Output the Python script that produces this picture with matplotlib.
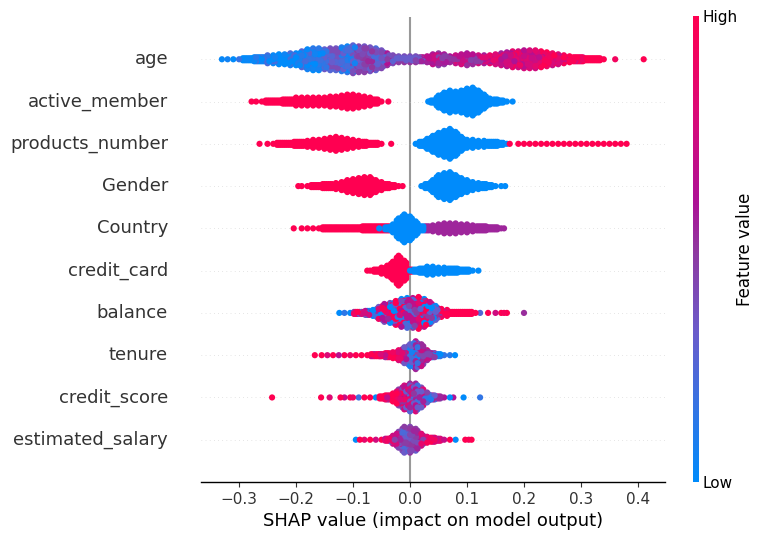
import numpy as np
import matplotlib
matplotlib.use("Agg")
import matplotlib.pyplot as plt
from matplotlib.colors import LinearSegmentedColormap
from matplotlib.cm import ScalarMappable

features = ["estimated_salary", "credit_score", "tenure", "balance", "credit_card",
            "Country", "Gender", "products_number", "active_member", "age"]

age_x = [-0.33,-0.32,-0.31,-0.30,-0.29,-0.28,-0.27,-0.26,-0.25,-0.24,-0.23,-0.22,-0.21,-0.20,-0.19,-0.18,-0.17,-0.16,-0.15,-0.14,-0.13,-0.12,-0.11,-0.10,-0.09,-0.08,-0.07,-0.06,-0.05,-0.04,-0.03,-0.02,-0.01,0.0,0.01,0.02,0.03,0.04,0.05,0.06,0.07,0.08,0.09,0.10,0.11,0.12,0.13,0.14,0.15,0.16,0.17,0.18,0.19,0.20,0.21,0.22,0.23,0.24,0.25,0.26,0.27,0.28,0.29,0.30,0.31,0.32,0.33,0.34,0.36,0.41]
age_n = [1,1,1,1,2,2,3,3,5,5,6,6,7,7,9,11,12,12,11,12,12,13,14,15,14,14,13,12,10,7,5,4,4,4,4,3,4,6,7,6,4,5,6,7,6,5,5,5,6,7,8,9,9,10,10,10,9,8,7,6,5,4,3,3,2,2,2,1,1,1]
age_f = [.02,.02,.02,.02,.03,.03,.03,.03,.03,.03,.04,.04,.05,.05,.08,.12,.16,.18,.2,.22,.22,.22,.22,.24,.28,.32,.36,.4,.42,.44,.46,.48,.5,.5,.5,.52,.52,.55,.56,.58,.6,.62,.62,.64,.64,.66,.68,.7,.72,.74,.76,.78,.8,.82,.82,.84,.84,.86,.88,.9,.92,.93,.94,.95,.96,.97,.98,.98,.98,.98]

active_x = [-0.278,-0.27,-0.26,-0.25,-0.24,-0.23,-0.22,-0.21,-0.20,-0.19,-0.18,-0.17,-0.16,-0.15,-0.14,-0.13,-0.12,-0.11,-0.10,-0.09,-0.08,-0.07,-0.06,-0.05,-0.038,0.032,0.04,0.05,0.06,0.07,0.08,0.09,0.10,0.11,0.12,0.13,0.14,0.15,0.16,0.17,0.18]
active_n = [1,1,1,2,2,2,3,3,5,5,5,5,5,5,6,6,7,8,8,7,6,5,3,1,1,1,2,7,10,12,11,12,14,15,12,8,4,3,2,1,1]
active_f = [1]*25 + [0]*16

products_x = [-0.264,-0.25,-0.24,-0.23,-0.22,-0.21,-0.20,-0.19,-0.18,-0.17,-0.16,-0.15,-0.14,-0.13,-0.12,-0.11,-0.10,-0.09,-0.08,-0.07,-0.06,-0.05,-0.033,0.01,0.02,0.03,0.04,0.05,0.06,0.07,0.08,0.09,0.10,0.11,0.12,0.13,0.14,0.15,0.16,0.17,0.175,0.19,0.20,0.21,0.22,0.23,0.24,0.25,0.26,0.27,0.28,0.29,0.30,0.31,0.32,0.33,0.34,0.35,0.36,0.37,0.38]
products_n = [1,1,1,2,2,2,3,3,4,5,5,6,7,8,7,6,5,4,3,2,2,1,1,1,3,6,9,12,14,16,13,8,5,5,4,4,3,3,2,1,1,1,1,1,1,1,1,1,1,1,1,1,1,1,1,1,1,1,1,1,1]
products_f = [1]*23 + [0]*17 + [1]*21

gender_x = [-0.196,-0.19,-0.18,-0.17,-0.16,-0.15,-0.14,-0.13,-0.12,-0.11,-0.10,-0.09,-0.08,-0.07,-0.06,-0.05,-0.04,-0.03,-0.02,-0.013,0.02,0.03,0.04,0.05,0.06,0.07,0.08,0.09,0.10,0.11,0.12,0.13,0.14,0.15,0.16,0.167]
gender_n = [1,1,1,2,2,3,3,4,5,7,8,9,10,10,7,5,3,2,1,1,1,3,7,12,14,15,12,9,7,5,4,3,2,1,1,1]
gender_f = [1]*20 + [0]*16

country_x = [-0.204,-0.19,-0.18,-0.17,-0.16,-0.15,-0.14,-0.13,-0.12,-0.11,-0.10,-0.09,-0.08,-0.07,-0.06,-0.05,-0.04,0.01,0.02,0.03,0.04,0.05,0.06,0.07,0.08,0.09,0.10,0.11,0.12,0.13,0.14,0.15,0.16,0.165,-0.054,-0.04,-0.03,-0.02,-0.01,0.0,0.01,0.02]
country_n = [1,1,1,1,1,2,2,2,2,2,2,2,3,3,3,3,3,1,2,3,4,5,6,6,6,5,5,4,3,3,2,2,1,1,1,2,5,11,15,13,8,3]
country_f = [1]*17 + [.55]*17 + [0]*8

card_x = [-0.075,-0.07,-0.06,-0.05,-0.04,-0.03,-0.02,-0.01,0.0,0.0,0.01,0.02,0.03,0.04,0.05,0.06,0.07,0.08,0.09,0.10,0.11,0.12]
card_n = [1,1,2,4,6,10,16,11,2,1,2,3,5,5,4,4,3,3,2,2,1,1]
card_f = [1]*9 + [0]*13

balance_x = [-0.124,-0.115,-0.105,-0.095,-0.085,-0.075,-0.065,-0.055,-0.045,-0.035,-0.025,-0.015,-0.005,0.005,0.015,0.025,0.035,0.045,0.055,0.065,0.075,0.085,0.095,0.105,0.115,0.123,0.137,0.15,0.16,0.165,0.17,0.2]
balance_n = [1,1,1,2,2,3,4,7,10,11,13,15,16,16,17,15,12,8,5,4,2,2,2,2,1,1,1,1,1,1,1,1]
balance_f = [0,0,.4,.35,.2,.05,.15,.2,.25,.4,.55,.6,.65,.68,.7,.7,.7,.72,.72,.75,.8,.9,.95,.95,.95,.95,.95,.95,.95,.95,.95,.95]

tenure_x = [-0.167,-0.155,-0.145,-0.135,-0.125,-0.115,-0.105,-0.095,-0.085,-0.075,-0.065,-0.055,-0.05,-0.04,-0.03,-0.02,-0.01,0.0,0.01,0.02,0.03,0.04,0.05,0.06,0.07,0.079]
tenure_n = [1,1,1,1,1,1,1,1,1,1,2,2,2,3,4,6,9,12,15,12,6,3,2,1,1,1]
tenure_f = [1,1,1,1,1,1,1,1,1,1,1,1,.95,.9,.85,.7,.55,.42,.38,.36,.36,.3,.25,.15,.05,0]

score_x = [-0.242,-0.156,-0.141,-0.122,-0.115,-0.105,-0.10,-0.09,-0.08,-0.07,-0.06,-0.05,-0.04,-0.03,-0.02,-0.01,0.0,0.01,0.02,0.03,0.04,0.05,0.06,0.07,0.076,0.094,0.123]
score_n = [1,1,1,1,1,1,1,1,1,1,1,2,3,5,9,13,15,15,11,6,3,2,1,1,1,1,1]
score_f = [1,1,1,1,1,1,1,.05,1,1,.05,.9,.85,.85,.75,.6,.55,.5,.5,.45,.4,.4,.35,.3,.3,0,0]

salary_x = [-0.095,-0.088,-0.08,-0.07,-0.06,-0.05,-0.04,-0.03,-0.02,-0.01,0.0,0.01,0.02,0.03,0.04,0.05,0.06,0.07,0.08,0.097,0.103,0.108]
salary_n = [1,1,1,1,1,1,2,5,9,14,14,12,7,4,3,2,1,1,1,1,1,1]
salary_f = [0,1,1,1,1,1,.9,.6,.5,.48,.5,.55,.6,.7,.8,.85,.85,.9,0,1,1,1]

# how far single dots of a bin stray from the bin's mean feature value
mix_levels = {"estimated_salary": .25, "credit_score": .3, "tenure": .35, "balance": .7,
              "credit_card": 0, "Country": 0, "Gender": 0, "products_number": 0,
              "active_member": 0, "age": .18}

rows = {"estimated_salary": (salary_x, salary_n, salary_f),
        "credit_score": (score_x, score_n, score_f),
        "tenure": (tenure_x, tenure_n, tenure_f),
        "balance": (balance_x, balance_n, balance_f),
        "credit_card": (card_x, card_n, card_f),
        "Country": (country_x, country_n, country_f),
        "Gender": (gender_x, gender_n, gender_f),
        "products_number": (products_x, products_n, products_f),
        "active_member": (active_x, active_n, active_f),
        "age": (age_x, age_n, age_f)}

cmap = LinearSegmentedColormap.from_list(
    "red_blue", [(0, "#008bfb"), (.32, "#6a5ccb"), (.5, "#90389f"), (.6, "#ad1296"),
                 (.8, "#dc0a76"), (1, "#ff0051")])

W, H = 764, 540
fig = plt.figure(figsize=(W / 100, H / 100), dpi=100)
ax = fig.add_axes([201 / W, 1 - 482 / H, (665 - 201) / W, (482 - 17) / H])
ax.set_xlim(-0.3667, 0.4474)
ax.set_ylim(-1, 10)
ax.axvline(0, color="#999999", lw=1.5, zorder=0)

LAYER = 0.047   # vertical distance between stacked dots, in row units
PHI = 0.618034
SUB = [(-0.0033, 2), (0.0, 0), (0.0033, 2)]   # three columns per bin; side ones shorter
PATTERN = [0.0, 1.0, -0.6, 0.5, -1.0, 0.2, -0.3, 0.8]

for pos, name in enumerate(features):
    ax.axhline(pos, color="#cccccc", lw=0.5, dashes=(1, 5), zorder=0)
    xs, ns, fs = rows[name]
    spread = mix_levels[name]
    px, py, pf = [], [], []
    counter = 0
    for x, n, f in zip(xs, ns, fs):
        for dx, trim in (SUB if n > 1 else [(0.0, 0)]):
            m = n - trim if n > 3 else n
            for k in range(m):
                px.append(x + dx)
                py.append(pos + (k - (m - 1) / 2) * LAYER)
                pat = PATTERN[(counter * 5 + k) % len(PATTERN)]
                counter += 1
                pf.append(np.clip(f + spread * pat, 0, 1))
    px, py, pf = np.array(px), np.array(py), np.array(pf)
    # fixed interleaved drawing order, so colours overlap as in a swarm
    order = np.argsort((np.arange(len(px)) * PHI) % 1) if spread else np.arange(len(px))
    ax.scatter(px[order], py[order], c=pf[order], cmap=cmap, vmin=0, vmax=1,
               s=20, linewidths=0, zorder=3)

for side in ("top", "right", "left"):
    ax.spines[side].set_visible(False)
ax.spines["bottom"].set_linewidth(1.0)
ax.set_yticks(range(len(features)))
ax.set_yticklabels(features, fontsize=13, va="center")
ax.tick_params(axis="y", length=0, pad=23.7, labelcolor="#333333")
ax.set_xticks([-0.3, -0.2, -0.1, 0.0, 0.1, 0.2, 0.3, 0.4])
ax.tick_params(axis="x", labelsize=11, length=3.5, color="#333333", labelcolor="#333333")
ax.set_xlabel("SHAP value (impact on model output)", fontsize=13, color="#000000", labelpad=3.5)

cax = fig.add_axes([693 / W, 1 - 482 / H, 6 / W, (482 - 16) / H])
cb = fig.colorbar(ScalarMappable(cmap=cmap), cax=cax, ticks=[0, 1])
cb.set_ticklabels(["Low", "High"])
cb.ax.tick_params(length=0, labelsize=11, pad=2.5)
cb.outline.set_visible(False)
cb.set_label("Feature value", size=12, labelpad=-1)

fig.savefig("out.png", dpi=100)
